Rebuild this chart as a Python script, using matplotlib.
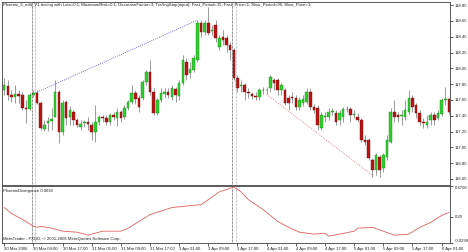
import matplotlib.pyplot as plt
import numpy as np

# USDJPY H1, 30 Mar 2006 01:00 .. 6 Apr 2006 03:00
opens = [117.77, 117.83, 117.71, 117.69, 117.72, 117.71, 117.55, 117.54, 117.71, 117.74,
         117.61, 117.28, 117.36, 117.39, 117.44, 117.75, 117.25, 117.62, 117.44, 117.50,
         117.40, 117.31, 117.36, 117.37, 117.33, 117.25, 117.37, 117.43, 117.42, 117.37,
         117.46, 117.42, 117.50, 117.43, 117.55, 117.63, 117.74, 117.67, 117.68, 117.88,
         118.00, 117.75, 117.49, 117.65, 117.73, 117.75, 117.69, 117.79, 117.70, 117.87,
         118.13, 117.99, 118.03, 118.16, 118.62, 118.51, 118.62, 118.52, 118.60, 118.32,
         118.45, 118.43, 118.35, 118.28, 117.93, 117.83, 117.84, 117.75, 117.72, 117.70,
         117.69, 117.78, 117.77, 117.80, 117.90, 117.90, 117.78, 117.78, 117.68, 117.69,
         117.68, 117.56, 117.61, 117.63, 117.75, 117.56, 117.55, 117.30, 117.44, 117.44,
         117.50, 117.49, 117.40, 117.43, 117.54, 117.54, 117.46, 117.43, 117.40, 117.14,
         117.14, 116.89, 116.76, 116.93, 116.79, 116.93, 117.12, 117.50, 117.46, 117.45,
         117.43, 117.50, 117.68, 117.59, 117.49, 117.37, 117.33, 117.40, 117.46, 117.42,
         117.47, 117.65, 117.66]
highs = [117.93, 117.90, 117.78, 117.84, 117.78, 117.75, 117.65, 117.74, 117.78, 117.78,
         117.63, 117.40, 117.44, 117.55, 117.90, 117.78, 117.65, 117.65, 117.58, 117.52,
         117.42, 117.40, 117.40, 117.43, 117.37, 117.59, 117.46, 117.46, 117.46, 117.49,
         117.50, 117.55, 117.52, 117.59, 117.65, 117.84, 117.78, 117.71, 117.90, 118.03,
         118.16, 117.80, 117.68, 117.80, 117.80, 117.80, 117.84, 117.81, 117.90, 118.22,
         118.18, 118.13, 118.22, 118.66, 118.66, 118.66, 118.83, 118.60, 118.66, 118.47,
         118.54, 118.47, 118.38, 118.31, 117.97, 117.90, 117.87, 117.80, 117.75, 117.75,
         117.80, 117.82, 117.82, 117.97, 117.93, 117.93, 117.87, 117.80, 117.71, 117.75,
         117.71, 117.69, 117.71, 117.80, 117.80, 117.60, 117.59, 117.50, 117.50, 117.55,
         117.55, 117.52, 117.52, 117.56, 117.57, 117.56, 117.52, 117.49, 117.42, 117.21,
         117.17, 116.92, 116.98, 116.95, 116.98, 117.21, 117.55, 117.65, 117.50, 117.52,
         117.65, 117.78, 117.71, 117.61, 117.52, 117.42, 117.46, 117.50, 117.50, 117.52,
         117.68, 117.81, 117.68]
lows = [117.71, 117.65, 117.63, 117.61, 117.61, 117.52, 117.36, 117.52, 117.69, 117.60,
        117.27, 117.26, 117.26, 117.27, 117.43, 117.11, 117.21, 117.33, 117.33, 117.33,
        117.31, 117.27, 117.31, 117.27, 117.14, 117.12, 117.33, 117.37, 117.33, 117.33,
        117.40, 117.32, 117.37, 117.41, 117.52, 117.60, 117.60, 117.50, 117.65, 117.84,
        117.71, 117.46, 117.46, 117.63, 117.68, 117.68, 117.65, 117.63, 117.65, 117.84,
        117.90, 117.93, 118.00, 118.13, 118.45, 118.47, 118.47, 118.47, 118.38, 118.28,
        118.35, 118.26, 118.16, 117.90, 117.75, 117.75, 117.65, 117.68, 117.66, 117.65,
        117.65, 117.73, 117.72, 117.75, 117.78, 117.71, 117.71, 117.59, 117.52, 117.61,
        117.52, 117.52, 117.58, 117.60, 117.52, 117.49, 117.27, 117.27, 117.37, 117.40,
        117.46, 117.33, 117.33, 117.37, 117.50, 117.37, 117.42, 117.37, 117.12, 117.08,
        116.89, 116.68, 116.70, 116.68, 116.74, 116.89, 117.11, 117.37, 117.37, 117.33,
        117.40, 117.47, 117.50, 117.42, 117.33, 117.30, 117.30, 117.33, 117.33, 117.40,
        117.45, 117.59, 117.47]
closes = [117.84, 117.71, 117.69, 117.72, 117.70, 117.55, 117.53, 117.71, 117.74, 117.61,
          117.30, 117.33, 117.39, 117.41, 117.75, 117.25, 117.61, 117.42, 117.52, 117.40,
          117.33, 117.35, 117.37, 117.35, 117.25, 117.37, 117.44, 117.42, 117.37, 117.46,
          117.44, 117.50, 117.42, 117.55, 117.63, 117.74, 117.66, 117.56, 117.88, 118.01,
          117.75, 117.49, 117.65, 117.74, 117.75, 117.71, 117.80, 117.71, 117.87, 118.16,
          117.97, 118.04, 118.18, 118.63, 118.51, 118.62, 118.50, 118.53, 118.43, 118.43,
          118.41, 118.35, 118.28, 117.93, 117.80, 117.84, 117.75, 117.74, 117.70, 117.69,
          117.78, 117.77, 117.78, 117.94, 117.87, 117.78, 117.84, 117.61, 117.61, 117.68,
          117.56, 117.65, 117.66, 117.75, 117.56, 117.52, 117.33, 117.46, 117.45, 117.50,
          117.51, 117.37, 117.49, 117.54, 117.53, 117.46, 117.47, 117.40, 117.14, 117.12,
          116.92, 116.76, 116.95, 116.76, 116.95, 117.14, 117.50, 117.43, 117.43, 117.46,
          117.52, 117.68, 117.56, 117.49, 117.37, 117.36, 117.37, 117.46, 117.40, 117.49,
          117.65, 117.66, 117.50]

# PhoenixDivergence indicator, read at selected bars
div_bars = [0, 2, 5, 8, 9, 10, 13, 16, 20, 23, 27, 32, 34, 40, 46, 51, 54, 56, 59, 63,
            65, 67, 71, 75, 78, 81, 85, 88, 89, 92, 96, 97, 101, 104, 107, 111, 114, 117, 120, 122]
div_vals = [0.281, 0.229, 0.177, 0.117, 0.108, 0.117, 0.100, 0.074, 0.065, 0.039, 0.074, 0.074,
            0.100, 0.220, 0.281, 0.298, 0.307, 0.350, 0.419, 0.462, 0.419, 0.350, 0.264, 0.160,
            0.108, 0.065, 0.048, 0.056, 0.031, 0.048, 0.074, 0.100, 0.108, 0.074, 0.039, 0.048,
            0.108, 0.151, 0.212, 0.238]

time_labels = ['30 Mar 2006', '30 Mar 09:00', '30 Mar 17:00', '31 Mar 01:00', '31 Mar 09:00',
               '31 Mar 17:00', '3 Apr 01:00', '3 Apr 09:00', '3 Apr 17:00', '4 Apr 01:00',
               '4 Apr 09:00', '4 Apr 17:00', '5 Apr 01:00', '5 Apr 09:00', '5 Apr 17:00',
               '6 Apr 01:00']
price_ticks = [116.65, 116.85, 117.05, 117.25, 117.45, 117.65, 117.85, 118.05, 118.25, 118.45,
               118.65, 118.85]

# tester markers: divergence bars and trend lines
vline_bars = [7.6, 8.4, 62.6, 63.7]
blue_line = ([8.6, 53.0], [117.74, 118.66])
red_line = ([72.0, 101.5], [117.72, 116.68])

title = ('Phoenix_6_edit_V1 testing with Lots=0.1; MaximumRisk=0.1; DecreaseFactor=3; '
         'TrailingStop(input); Fast_Period=15; Fast_Price=1; Slow_Period=96; Slow_Price=1;')

plt.rcParams['font.family'] = 'Liberation Sans'
fs = 3.1
txt = '#202020'

fig = plt.figure(figsize=(4.68, 2.52), dpi=100)
W, H = 468.0, 252.0
ax = fig.add_axes([2 / W, (H - 185) / H, 448 / W, 183 / H])
ax2 = fig.add_axes([2 / W, (H - 243) / H, 448 / W, 57 / H])

n = len(opens)
x = np.arange(n)
o = np.array(opens)
c = np.array(closes)
up = c >= o
green = '#2fcf2f'
red = '#b81414'

ax.vlines(x, lows, highs, color='#8a8a8a', lw=0.6, zorder=1)
body_lo = np.minimum(o, c)
body_h = np.maximum(np.abs(c - o), 0.008)
ax.bar(x[up], body_h[up], bottom=body_lo[up], width=0.7, color=green,
       edgecolor='#1d8a1d', lw=0.3, zorder=2)
ax.bar(x[~up], body_h[~up], bottom=body_lo[~up], width=0.7, color=red,
       edgecolor='#7a0c0c', lw=0.3, zorder=2)

ax.plot(blue_line[0], blue_line[1], color='#4040e0', lw=0.6, ls=(0, (1, 1.5)), zorder=3)
ax.plot(red_line[0], red_line[1], color='#e07070', lw=0.6, ls=(0, (1, 1.5)), zorder=3)

for i, b in enumerate(vline_bars):
    col = '#202020' if i % 2 == 0 else '#909090'
    ax.axvline(b, color=col, lw=0.5, ls=(0, (1, 1)))
    ax2.axvline(b, color=col, lw=0.5, ls=(0, (1, 1)))

ax.set_xlim(-0.6, n - 0.7)
ax2.set_xlim(-0.6, n - 0.7)
ax.set_ylim(116.574, 118.89)
ax.yaxis.tick_right()
ax.set_yticks(price_ticks)
ax.set_yticklabels(['%.2f' % p for p in price_ticks])
ax.set_xticks([])
ax.tick_params(axis='y', labelsize=fs, length=2, width=0.5, pad=1.5, colors=txt)

ax.text(0.003, 0.993, title, transform=ax.transAxes, fontsize=fs, va='top', ha='left',
        color=txt)

ax2.plot(div_bars, div_vals, color='#e06060', lw=0.6)
ax2.set_ylim(-0.0299, 0.4706)
ax2.yaxis.tick_right()
ax2.set_yticks([0.4706, 0.20, -0.0299])
ax2.set_yticklabels(['0.4706', '0.20', '-0.0299'])
ax2.tick_params(axis='y', labelsize=fs, length=2, width=0.5, pad=1.5, colors=txt)
ylab = ax2.get_yticklabels()
ylab[0].set_va('top')
ylab[2].set_va('bottom')

ax2.set_xticks(np.arange(0, n, 8))
ax2.set_xticklabels(time_labels, ha='left')
ax2.tick_params(axis='x', labelsize=fs, length=2, width=0.5, pad=0.8, colors=txt)

ax2.text(0.003, 0.95, 'PhoenixDivergence 0.0030', transform=ax2.transAxes, fontsize=fs,
         va='top', ha='left', color=txt)
ax2.text(0.003, 0.04, 'MetaTrader - FXDD, \u00a9 2001-2006 MetaQuotes Software Corp.',
         transform=ax2.transAxes, fontsize=fs, va='bottom', ha='left', color=txt)

for a in (ax, ax2):
    for s in a.spines.values():
        s.set_linewidth(0.6)
        s.set_color('#404040')

fig.savefig('out.png', dpi=100, facecolor='white')
